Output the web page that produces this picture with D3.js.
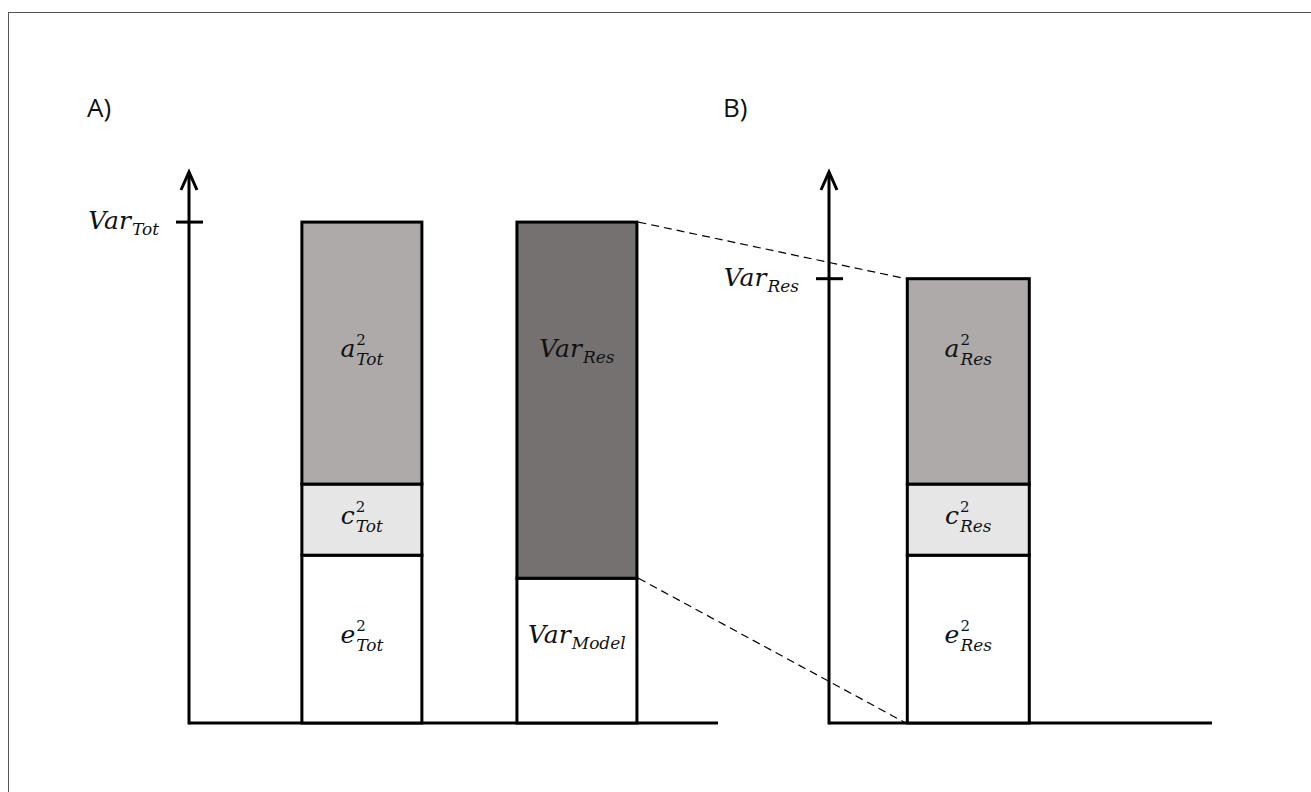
<!DOCTYPE html>
<html>
<head>
<meta charset="utf-8">
<script src="https://cdn.jsdelivr.net/npm/d3@7"></script>
<style>
  html, body { margin: 0; padding: 0; background: #fff; }
  svg { display: block; }
</style>
</head>
<body>
<div id="chart"></div>
<script>
// variance components (arbitrary units, total variance = 100)
const totLetters = ['e', 'c', 'a'];
const totValues = [33.5, 14.2, 52.3];
const totFills = ['#ffffff', '#e7e6e6', '#aeaaaa'];

const splitSubs = ['Model', 'Res'];
const splitValues = [28.9, 71.1];
const splitFills = ['#ffffff', '#767171'];

const resLetters = ['e', 'c', 'a'];
const resValues = [33.5, 14.2, 41.0];
const resFills = ['#ffffff', '#e7e6e6', '#aeaaaa'];

const barsA = ['tot', 'split'];
const barsB = ['res'];
const tickSubs = ['Tot', 'Res'];
const axisMax = 110;

const W = 1311, H = 792;
const BASE = 723, TOP = 172;
const MATH = '"DejaVu Serif", serif';

const svg = d3.select('#chart').append('svg')
  .attr('width', W)
  .attr('height', H);

// frame
svg.append('rect')
  .attr('x', 8.5).attr('y', 12.5)
  .attr('width', W + 20).attr('height', H + 20)
  .attr('fill', 'none')
  .attr('stroke', '#555')
  .attr('stroke-width', 1);

const y = d3.scaleLinear()
  .domain([0, axisMax])
  .range([BASE, TOP]);

const xA = d3.scaleBand()
  .domain(barsA)
  .range([189, 718])
  .paddingInner(0.442)
  .paddingOuter(0.451)
  .align(0.582);

const xB = d3.scaleBand()
  .domain(barsB)
  .range([829, 1212])
  .paddingInner(0.442)
  .paddingOuter(0.597)
  .align(0.3);

function stack(values) {
  let acc = 0;
  return values.map(v => {
    const d = {y0: acc, y1: acc + v};
    acc += v;
    return d;
  });
}

// labels sit on the rows of the first bar's segments
const rowY = stack(totValues).map(d => (y(d.y0) + y(d.y1)) / 2 + 4);

// math-ish label: italic main, upright superscript, italic subscript stacked
function mathLabel(g, cx, cy, main, sup, sub, anchor) {
  const lg = g.append('g');
  const m = lg.append('text')
    .attr('x', 0).attr('y', 0)
    .attr('font-family', MATH)
    .attr('font-style', 'italic')
    .attr('font-size', 25)
    .attr('fill', '#111')
    .text(main);
  const mw = m.node().getComputedTextLength();
  let extra = 0;
  if (sup) {
    const s = lg.append('text')
      .attr('x', mw + 1).attr('y', -12)
      .attr('font-family', MATH)
      .attr('font-size', 15)
      .attr('fill', '#111')
      .text(sup);
    extra = Math.max(extra, s.node().getComputedTextLength() + 1);
  }
  if (sub) {
    const s = lg.append('text')
      .attr('x', mw + 1).attr('y', sup ? 8 : 6)
      .attr('font-family', MATH)
      .attr('font-style', 'italic')
      .attr('font-size', 17)
      .attr('fill', '#111')
      .text(sub);
    extra = Math.max(extra, s.node().getComputedTextLength() + 1);
  }
  const total = mw + extra;
  const dx = anchor === 'end' ? cx - total : cx - total / 2;
  lg.attr('transform', `translate(${dx}, ${cy})`);
}

function drawBar(g, x0, width, values, fills, labels, rows) {
  const segs = stack(values);
  g.selectAll(null)
    .data(segs)
    .enter().append('rect')
      .attr('x', x0)
      .attr('y', d => y(d.y1))
      .attr('width', width)
      .attr('height', d => y(d.y0) - y(d.y1))
      .attr('fill', (d, i) => fills[i])
      .attr('stroke', '#000')
      .attr('stroke-width', 3);
  segs.forEach((d, i) => {
    const l = labels[i];
    mathLabel(g, x0 + width / 2, rowY[rows[i]], l.main, l.sup, l.sub);
  });
}

function drawAxis(g, ax, x1, tickValue, tickSub) {
  g.append('line')
    .attr('x1', ax).attr('x2', x1)
    .attr('y1', y(0)).attr('y2', y(0))
    .attr('stroke', '#000').attr('stroke-width', 3);
  g.append('line')
    .attr('x1', ax).attr('x2', ax)
    .attr('y1', y(0) + 1.5).attr('y2', y(axisMax))
    .attr('stroke', '#000').attr('stroke-width', 3);
  g.append('path')
    .attr('d', `M${ax - 8},${y(axisMax) + 18}L${ax},${y(axisMax)}L${ax + 8},${y(axisMax) + 18}`)
    .attr('fill', 'none')
    .attr('stroke', '#000').attr('stroke-width', 3);
  g.append('line')
    .attr('x1', ax - 13).attr('x2', ax + 14)
    .attr('y1', y(tickValue)).attr('y2', y(tickValue))
    .attr('stroke', '#000').attr('stroke-width', 3);
  mathLabel(g, ax - 30, y(tickValue) + 7, 'Var', null, tickSub, 'end');
}

const totalTot = d3.sum(totValues);
const totalRes = d3.sum(resValues);

// panel A
const gA = svg.append('g');
drawAxis(gA, 189, 718, totalTot, tickSubs[0]);
drawBar(gA, xA('tot'), xA.bandwidth(), totValues, totFills,
  totLetters.map(l => ({main: l, sup: '2', sub: 'Tot'})), [0, 1, 2]);
drawBar(gA, xA('split'), xA.bandwidth(), splitValues, splitFills,
  splitSubs.map(s => ({main: 'Var', sub: s})), [0, 2]);

// panel B
const gB = svg.append('g');
drawAxis(gB, 829, 1212, totalRes, tickSubs[1]);
drawBar(gB, xB('res'), xB.bandwidth(), resValues, resFills,
  resLetters.map(l => ({main: l, sup: '2', sub: 'Res'})), [0, 1, 2]);

// dashed connectors: residual part of bar 2 expanded to panel B
const xr = xA('split') + xA.bandwidth() + 1.5;
const xl = xB('res') - 1.5;
svg.append('line')
  .attr('x1', xr).attr('y1', y(totalTot))
  .attr('x2', xl).attr('y2', y(totalRes))
  .attr('stroke', '#000').attr('stroke-width', 1.2)
  .attr('stroke-dasharray', '8,5');
svg.append('line')
  .attr('x1', xr).attr('y1', y(splitValues[0]))
  .attr('x2', xl).attr('y2', y(0))
  .attr('stroke', '#000').attr('stroke-width', 1.2)
  .attr('stroke-dasharray', '8,5');

// panel letters
svg.append('text')
  .attr('x', 87).attr('y', 117)
  .attr('font-family', '"Open Sans", sans-serif')
  .attr('font-size', 26)
  .attr('fill', '#111')
  .text('A)');
svg.append('text')
  .attr('x', 723).attr('y', 117)
  .attr('font-family', '"Open Sans", sans-serif')
  .attr('font-size', 26)
  .attr('fill', '#111')
  .text('B)');
</script>
</body>
</html>
